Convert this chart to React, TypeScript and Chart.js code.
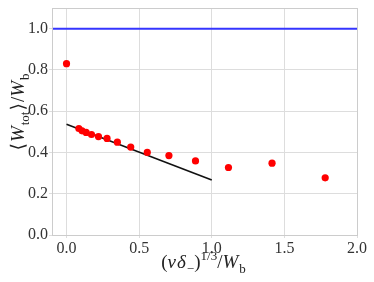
import React, { useEffect, useRef } from "react";
import { Chart, registerables } from "chart.js";

Chart.register(...registerables);

const pointX = [0.0, 0.085, 0.107, 0.135, 0.172, 0.22, 0.279, 0.35, 0.442, 0.556, 0.705, 0.888, 1.115, 1.415, 1.781];
const pointY = [0.83, 0.516, 0.505, 0.497, 0.487, 0.477, 0.468, 0.45, 0.426, 0.4, 0.385, 0.359, 0.327, 0.348, 0.277];
const fitX = [0, 1];
const fitY = [0.537, 0.267];
const refX = [-0.1, 2.0];
const refY = [1.0, 1.0];
const xTicks = [0, 0.5, 1, 1.5, 2];
const yTicks = [0, 0.2, 0.4, 0.6, 0.8, 1.0];

type Seg = { t: string; italic?: boolean; sub?: boolean; sup?: boolean; gap?: number };

const yTitle: Seg[] = [
  { t: "⟨", gap: 1 },
  { t: "W", italic: true },
  { t: "tot", sub: true, gap: 1 },
  { t: "⟩", gap: 1 },
  { t: "/" },
  { t: "W", italic: true },
  { t: "b", sub: true },
];
const xTitle: Seg[] = [
  { t: "(" },
  { t: "v", italic: true },
  { t: "δ", italic: true },
  { t: "−", sub: true },
  { t: ")" },
  { t: "1/3", sup: true },
  { t: "/" },
  { t: "W", italic: true },
  { t: "b", sub: true },
];

const FAMILY = "'Liberation Serif', 'DejaVu Serif', serif";
const TSIZE = 19;

function segFont(s: Seg) {
  const size = s.sub || s.sup ? Math.round(TSIZE * 0.7) : TSIZE;
  return `${s.italic ? "italic " : ""}${size}px ${FAMILY}`;
}

function segWidth(ctx: CanvasRenderingContext2D, s: Seg) {
  return ctx.measureText(s.t).width + (s.italic ? 1 : 0) + (s.gap || 0);
}

function drawMath(ctx: CanvasRenderingContext2D, segs: Seg[], cx: number, baseY: number) {
  let total = 0;
  for (const s of segs) {
    ctx.font = segFont(s);
    total += segWidth(ctx, s);
  }
  let x = cx - total / 2;
  ctx.textBaseline = "alphabetic";
  ctx.textAlign = "left";
  for (const s of segs) {
    ctx.font = segFont(s);
    const dy = s.sub ? TSIZE * 0.25 : s.sup ? -TSIZE * 0.4 : 0;
    ctx.fillText(s.t, x, baseY + dy);
    x += segWidth(ctx, s);
  }
}

const framePlugin = {
  id: "frameBox",
  afterDraw(chart: any) {
    const ctx = chart.ctx as CanvasRenderingContext2D;
    const a = chart.chartArea;
    ctx.save();
    ctx.strokeStyle = "#cccccc";
    ctx.lineWidth = 1;
    ctx.strokeRect(Math.round(a.left) + 0.5, Math.round(a.top) + 0.5, Math.round(a.right - a.left), Math.round(a.bottom - a.top));
    ctx.restore();
  },
};

const titlePlugin = {
  id: "mathTitles",
  afterDraw(chart: any) {
    const ctx = chart.ctx as CanvasRenderingContext2D;
    const a = chart.chartArea;
    ctx.save();
    ctx.fillStyle = "#222";
    drawMath(ctx, xTitle, (a.left + a.right) / 2 - 1, 268);
    ctx.translate(24, 112);
    ctx.rotate(-Math.PI / 2);
    drawMath(ctx, yTitle, 0, 0);
    ctx.restore();
  },
};

export default function App() {
  const ref = useRef<HTMLCanvasElement>(null);
  useEffect(() => {
    const canvas = ref.current!;
    const chart = new Chart(canvas, {
      type: "scatter",
      data: {
        datasets: [
          {
            data: pointX.map((x, i) => ({ x, y: pointY[i] })),
            backgroundColor: "#ff0000",
            borderColor: "#ff0000",
            pointRadius: 3.6,
            pointBorderWidth: 0,
            showLine: false,
            order: 0,
          },
          {
            data: fitX.map((x, i) => ({ x, y: fitY[i] })),
            borderColor: "#111111",
            borderWidth: 1.6,
            pointRadius: 0,
            showLine: true,
            order: 1,
          },
          {
            data: refX.map((x, i) => ({ x, y: refY[i] })),
            borderColor: "#3535ff",
            borderWidth: 2,
            pointRadius: 0,
            showLine: true,
            order: 2,
          },
        ],
      },
      options: {
        responsive: false,
        animation: false,
        layout: { padding: { top: 8, right: 17, left: 0, bottom: 0 } },
        plugins: { legend: { display: false }, tooltip: { enabled: false } },
        scales: {
          x: {
            type: "linear",
            min: -0.1,
            max: 2.0,
            afterBuildTicks: (axis: any) => {
              axis.ticks = xTicks.map((v) => ({ value: v }));
            },
            afterFit: (scale: any) => {
              scale.height = 47;
              scale.paddingLeft = 0;
              scale.paddingRight = 0;
            },
            grid: { color: "#dddddd", tickLength: 3, lineWidth: 1 },
            border: { color: "#cccccc", width: 1 },
            ticks: {
              color: "#333",
              padding: 1,
              font: { family: FAMILY, size: 16 },
              callback: (v: any) => Number(v).toFixed(1),
            },
          },
          y: {
            type: "linear",
            min: 0,
            max: 1.1,
            afterBuildTicks: (axis: any) => {
              axis.ticks = yTicks.map((v) => ({ value: v }));
            },
            afterFit: (scale: any) => {
              scale.width = 52;
              scale.paddingTop = 0;
              scale.paddingBottom = 0;
            },
            grid: { color: "#dddddd", tickLength: 3, lineWidth: 1 },
            border: { color: "#cccccc", width: 1 },
            ticks: {
              color: "#333",
              padding: 1,
              font: { family: FAMILY, size: 16 },
              callback: (v: any) => Number(v).toFixed(1),
            },
          },
        },
      },
      plugins: [framePlugin, titlePlugin],
    });
    return () => chart.destroy();
  }, []);
  return (
    <div style={{ position: "fixed", left: 0, top: 0, width: 374, height: 282, background: "#fff" }}>
      <canvas ref={ref} width={374} height={282} />
    </div>
  );
}
